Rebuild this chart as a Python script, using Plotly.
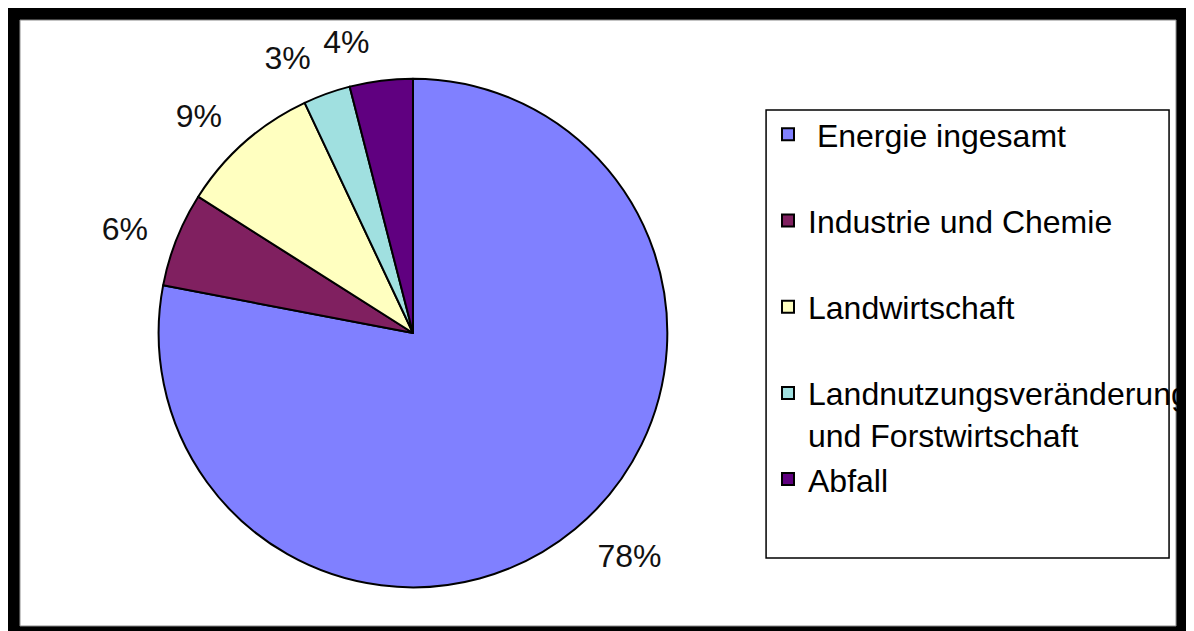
import plotly.graph_objects as go

# Data
categories = ["Energie ingesamt", "Industrie und Chemie", "Landwirtschaft",
              "Landnutzungsveränderung und Forstwirtschaft", "Abfall"]
shares = [78, 6, 9, 3, 4]
colors = ["#8080FF", "#802060", "#FFFFC0", "#A0E0E0", "#600080"]

# page is offset by the default 8px body margin
OFF = 8
W, H = 1194 - OFF, 631 - OFF

def px_x(x):
    return (x - OFF) / W

def px_y(y):
    return 1 - (y - OFF) / H

# legend labels (padding lines mimic the spaced Excel legend)
legend_labels = [
    "\u00a0" + categories[0] + "<br>\u00a0",
    categories[1] + "<br>\u00a0",
    categories[2] + "<br>\u00a0",
    "Landnutzungsveränderung<br>und Forstwirtschaft",
    categories[4],
]

cx, cy, r = 414, 333, 255
r_lab = 276  # radius used to place the outside percentage labels

def dom(rad):
    return dict(x=[px_x(cx - rad), px_x(cx + rad)], y=[px_y(cy + rad), px_y(cy - rad)])

label_font = dict(family="Liberation Sans, Arial", size=32, color="#111")

main = go.Pie(
    labels=legend_labels,
    values=shares,
    sort=False,
    direction="clockwise",
    rotation=0,
    marker=dict(colors=colors, line=dict(color="black", width=2)),
    textinfo="none",
    domain=dom(r),
    hoverinfo="label+percent",
)

def label_trace(positions):
    return go.Pie(
        labels=legend_labels,
        values=shares,
        sort=False,
        direction="clockwise",
        rotation=0,
        marker=dict(colors=["rgba(0,0,0,0)"] * len(shares), line=dict(width=0)),
        textposition=positions,
        texttemplate="%{percent:.0%}",
        textfont=label_font,
        outsidetextfont=label_font,
        domain=dom(r_lab),
        hoverinfo="skip",
        showlegend=False,
    )

n = len(shares)
lab_a = label_trace(["outside"] * (n - 1) + ["none"])
lab_b = label_trace(["none"] * (n - 1) + ["outside"])

fig = go.Figure([main, lab_a, lab_b])

shapes = [
    # thick black frame
    dict(type="rect", xref="paper", yref="paper", x0=px_x(8), x1=1.02, y0=-0.02, y1=px_y(8),
         fillcolor="black", line=dict(width=0), layer="below"),
    dict(type="rect", xref="paper", yref="paper", x0=px_x(20), x1=px_x(1179), y0=px_y(626), y1=px_y(20),
         fillcolor="white", line=dict(color="#888", width=1), layer="below"),
    # legend box
    dict(type="rect", xref="paper", yref="paper", x0=px_x(768), x1=px_x(1172), y0=px_y(558), y1=px_y(110),
         fillcolor="white", line=dict(color="black", width=1.5), layer="below"),
]

fig.update_layout(
    width=W, height=H,
    margin=dict(l=0, r=0, t=0, b=0),
    paper_bgcolor="white",
    plot_bgcolor="white",
    shapes=shapes,
    showlegend=True,
    legend=dict(
        x=px_x(770), xanchor="left",
        y=px_y(107), yanchor="top",
        bgcolor="rgba(0,0,0,0)",
        borderwidth=0,
        font=dict(family="Liberation Sans, Arial", size=32, color="black"),
        valign="top",
    ),
    font=dict(family="Liberation Sans, Arial"),
)

fig.write_html("out.html", config={"displayModeBar": False})
